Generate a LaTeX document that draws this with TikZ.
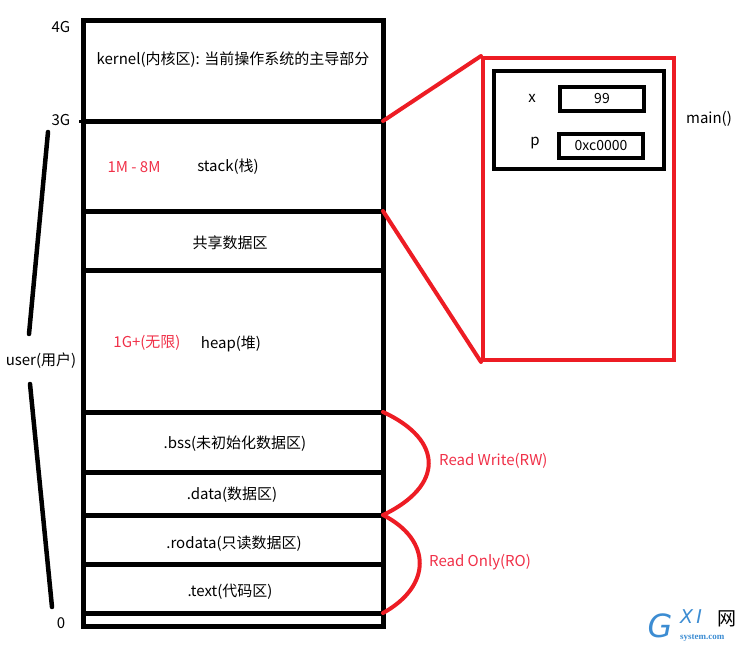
\documentclass[tikz,border=0pt]{standalone}
\usepackage{fontspec}
\setmainfont{Noto Sans CJK SC}
\newfontfamily\wmfont{DejaVu Sans}
\newfontfamily\wmserif{Liberation Serif}
\definecolor{pred}{RGB}{237,28,36}
\definecolor{tred}{RGB}{240,48,72}
\definecolor{wblue}{RGB}{60,140,210}
\begin{document}
\begin{tikzpicture}[x=1pt,y=-1pt,
  blk/.style={line width=5pt},
  inbox/.style={draw,line width=4pt,minimum width=84pt,minimum height=24pt,inner sep=0pt,font=\fontsize{14}{14}\selectfont},
  lbl/.style={font=\fontsize{15}{15}\selectfont,inner sep=0pt},
  rlbl/.style={lbl,text=tred},
  redln/.style={draw=pred,line width=4pt},
  slant/.style={line width=4.5pt,line cap=round}]
\useasboundingbox (0,0) rectangle (745,648);
% memory layout box
\coordinate (tl) at (83,20);
\coordinate (br) at (383,626);
\draw[blk] (tl) rectangle (br);
\foreach \y/\n in {121/l3g,211/lstk,270/lshr,412/lheap,472/lbss,515/ldata,564/lro,613/ltext}{
  \coordinate (\n L) at (83,\y);
  \coordinate (\n R) at (383,\y);
  \draw[blk] (\n L) -- (\n R);
}
\draw[line width=3pt] (79,121) -- (l3gL);
% texts in the box
\node[lbl] (kern) at (233,60) {kernel(内核区): 当前操作系统的主导部分};
\node[rlbl] (stsz) at (134,167) {1M - 8M};
\node[lbl] (stk) at (228,167) {stack(栈)};
\node[lbl] (shr) at (230,243) {共享数据区};
\node[rlbl] (hpsz) at (147,343) {1G+(无限)};
\node[lbl] (heap) at (231,344) {heap(堆)};
\node[lbl] (bss) at (235,444) {.bss(未初始化数据区)};
\node[lbl] (data) at (232,495) {.data(数据区)};
\node[lbl] (ro) at (234,544) {.rodata(只读数据区)};
\node[lbl] (txt) at (230,592) {.text(代码区)};
% left labels
\node[lbl] (g4) at (61,27) {4G};
\node[lbl] (g3) at (61,120) {3G};
\node[lbl] (g0) at (61,623) {0};
\node[lbl] (user) at (41,361) {user(用户)};
\coordinate (u1) at (48,132);
\coordinate (u2) at (29,334);
\coordinate (u3) at (30,384);
\coordinate (u4) at (52,607);
\draw[slant] (u1) -- (u2);
\draw[slant] (u3) -- (u4);
% stack frame zoom
\node[draw=pred,line width=4pt,minimum width=191pt,minimum height=302pt,inner sep=0pt] (frame) at (578.5,209) {};
\node[draw,line width=4pt,minimum width=170pt,minimum height=98pt,inner sep=0pt] (fn) at (579,120) {};
\node[inbox] (vx) at (602,99) {99};
\node[inbox] (vp) at (601,146) {0xc0000};
\node[lbl] (nx) at (532,98) {x};
\node[lbl] (np) at (535,143) {p};
\node[lbl] (mainl) at (709,119) {main()};
\draw[redln,line cap=round] (l3gR) -- (frame.north west);
\draw[redln,line cap=round] (lstkR) -- (frame.south west);
% RW / RO braces
\draw[redln,line cap=round] (lheapR) .. controls (444,440) and (444,486) .. (ldataR);
\draw[redln,line cap=round] (ldataR) .. controls (432,540) and (432,586) .. (ltextR);
\node[rlbl,anchor=west] (rw) at (439,461) {Read Write(RW)};
\node[rlbl,anchor=west] (rol) at (429,562) {Read Only(RO)};
% watermark
\node[inner sep=0pt,text=wblue,font=\wmfont\fontsize{32}{32}\selectfont\itshape] (wg) at (660,626) {G};
\node[inner sep=0pt,text=wblue,font=\wmfont\fontsize{19}{19}\selectfont\itshape,anchor=west] (wx) at (680,617) {X\,I};
\node[inner sep=0pt,font=\fontsize{19}{19}\selectfont,anchor=west] (wn) at (717,619) {网};
\node[inner sep=0pt,text=wblue,font=\wmserif\fontsize{9}{9}\selectfont\bfseries,anchor=west] (ws) at (680,638) {system.com};
\end{tikzpicture}
\end{document}
